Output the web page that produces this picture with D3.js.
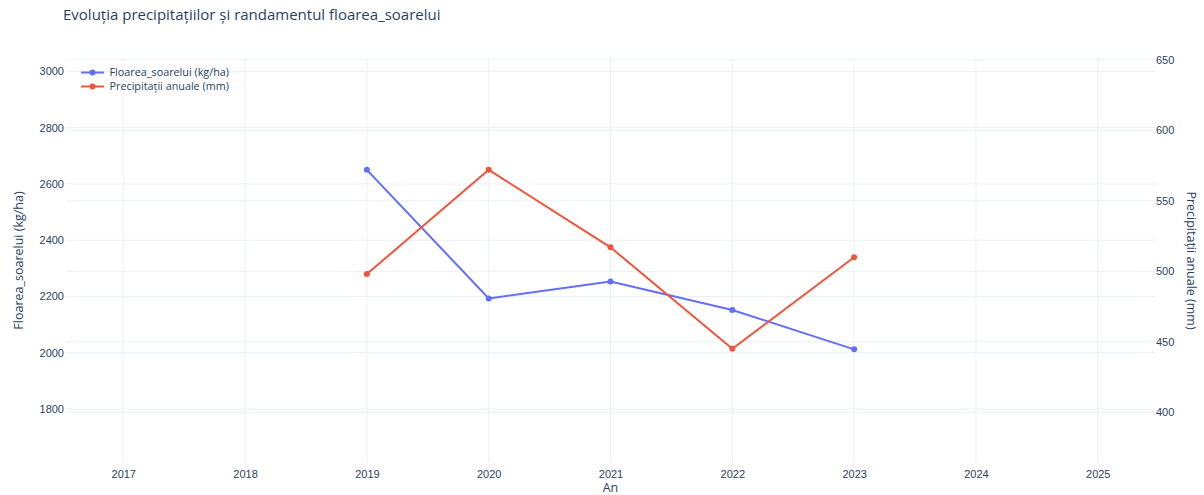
<!DOCTYPE html>
<html>
<head>
<meta charset="utf-8">
<script src="https://cdn.jsdelivr.net/npm/d3@7"></script>
<style>
  body { margin: 0; background: #fff; }
  svg { font-family: "Open Sans", verdana, arial, sans-serif; }
</style>
</head>
<body>
<div id="app"></div>
<script>
const years = [2019, 2020, 2021, 2022, 2023];
const yieldValues = [2650, 2193, 2253, 2152, 2012];
const rainValues = [498, 572, 517, 445, 510];
const xTicks = [2017, 2018, 2019, 2020, 2021, 2022, 2023, 2024, 2025];
const leftTicks = [1800, 2000, 2200, 2400, 2600, 2800, 3000];
const rightTicks = [400, 450, 500, 550, 600, 650];
const seriesNames = ['Floarea_soarelui (kg/ha)', 'Precipitații anuale (mm)'];

const width = 1204;
const height = 495;
const margin = { top: 58, right: 49, bottom: 32, left: 66 };
const textColor = '#2a3f5f';
const gridColor = '#ebf0f8';
const colors = ['#636efa', '#ef553b'];

const svg = d3.select('#app')
  .append('svg')
  .attr('width', width)
  .attr('height', height);

const x = d3.scaleLinear()
  .domain([2016.53, 2025.47])
  .range([margin.left, width - margin.right]);

const yLeft = d3.scaleLinear()
  .domain([1608, 3047.5])
  .range([height - margin.bottom, margin.top]);

const yRight = d3.scaleLinear()
  .domain([364, 651.3])
  .range([height - margin.bottom, margin.top]);

// grid lines
const grid = svg.append('g');
grid.selectAll('.gx')
  .data(xTicks)
  .join('line')
  .attr('x1', d => x(d)).attr('x2', d => x(d))
  .attr('y1', margin.top).attr('y2', height - margin.bottom)
  .attr('stroke', gridColor);
grid.selectAll('.gl')
  .data(leftTicks)
  .join('line')
  .attr('x1', margin.left).attr('x2', width - margin.right)
  .attr('y1', d => yLeft(d)).attr('y2', d => yLeft(d))
  .attr('stroke', gridColor);
grid.selectAll('.gr')
  .data(rightTicks)
  .join('line')
  .attr('x1', margin.left).attr('x2', width - margin.right)
  .attr('y1', d => yRight(d)).attr('y2', d => yRight(d))
  .attr('stroke', gridColor);

// axes
const xAxis = svg.append('g')
  .attr('transform', `translate(0,${height - margin.bottom})`)
  .call(d3.axisBottom(x).tickValues(xTicks).tickFormat(d3.format('d')).tickSize(0).tickPadding(7));

const leftAxis = svg.append('g')
  .attr('transform', `translate(${margin.left - 2},0)`)
  .call(d3.axisLeft(yLeft).tickValues(leftTicks).tickFormat(d3.format('d')).tickSize(0).tickPadding(0));

const rightAxis = svg.append('g')
  .attr('transform', `translate(${width - margin.right + 1},0)`)
  .call(d3.axisRight(yRight).tickValues(rightTicks).tickSize(0).tickPadding(0));

[xAxis, leftAxis, rightAxis].forEach(g => {
  g.select('.domain').remove();
  g.selectAll('text')
    .attr('fill', textColor)
    .style('font-size', '11px');
});

// lines
const series = [
  { values: yieldValues, scale: yLeft },
  { values: rainValues, scale: yRight }
];

series.forEach((s, i) => {
  const pts = years.map((yr, j) => [x(yr), s.scale(s.values[j])]);
  svg.append('path')
    .attr('d', d3.line()(pts))
    .attr('fill', 'none')
    .attr('stroke', colors[i])
    .attr('stroke-width', 2);
  svg.append('g')
    .selectAll('circle')
    .data(pts)
    .join('circle')
    .attr('cx', d => d[0])
    .attr('cy', d => d[1])
    .attr('r', 3)
    .attr('fill', colors[i]);
});

// title
svg.append('text')
  .attr('x', 63)
  .attr('y', 20)
  .attr('fill', textColor)
  .style('font-size', '15px')
  .text('Evoluția precipitațiilor și randamentul floarea_soarelui');

// axis titles
svg.append('text')
  .attr('x', x(2021))
  .attr('y', 492)
  .attr('text-anchor', 'middle')
  .attr('fill', textColor)
  .style('font-size', '12.5px')
  .text('An');

svg.append('text')
  .attr('transform', `translate(23,${(margin.top + height - margin.bottom) / 2}) rotate(-90)`)
  .attr('text-anchor', 'middle')
  .attr('fill', textColor)
  .style('font-size', '12.5px')
  .text('Floarea_soarelui (kg/ha)');

svg.append('text')
  .attr('transform', `translate(1187,${(margin.top + height - margin.bottom) / 2}) rotate(90)`)
  .attr('text-anchor', 'middle')
  .attr('fill', textColor)
  .style('font-size', '12.5px')
  .text('Precipitații anuale (mm)');

// legend
const legend = svg.append('g').attr('transform', 'translate(81,72.5)');
seriesNames.forEach((name, i) => {
  const row = legend.append('g').attr('transform', `translate(0,${i * 14})`);
  row.append('line')
    .attr('x1', 0).attr('x2', 23)
    .attr('stroke', colors[i])
    .attr('stroke-width', 2);
  row.append('circle')
    .attr('cx', 11.5)
    .attr('r', 3)
    .attr('fill', colors[i]);
  row.append('text')
    .attr('x', 28.5)
    .attr('dy', '0.35em')
    .attr('fill', textColor)
    .style('font-size', '10.8px')
    .text(name);
});
</script>
</body>
</html>
